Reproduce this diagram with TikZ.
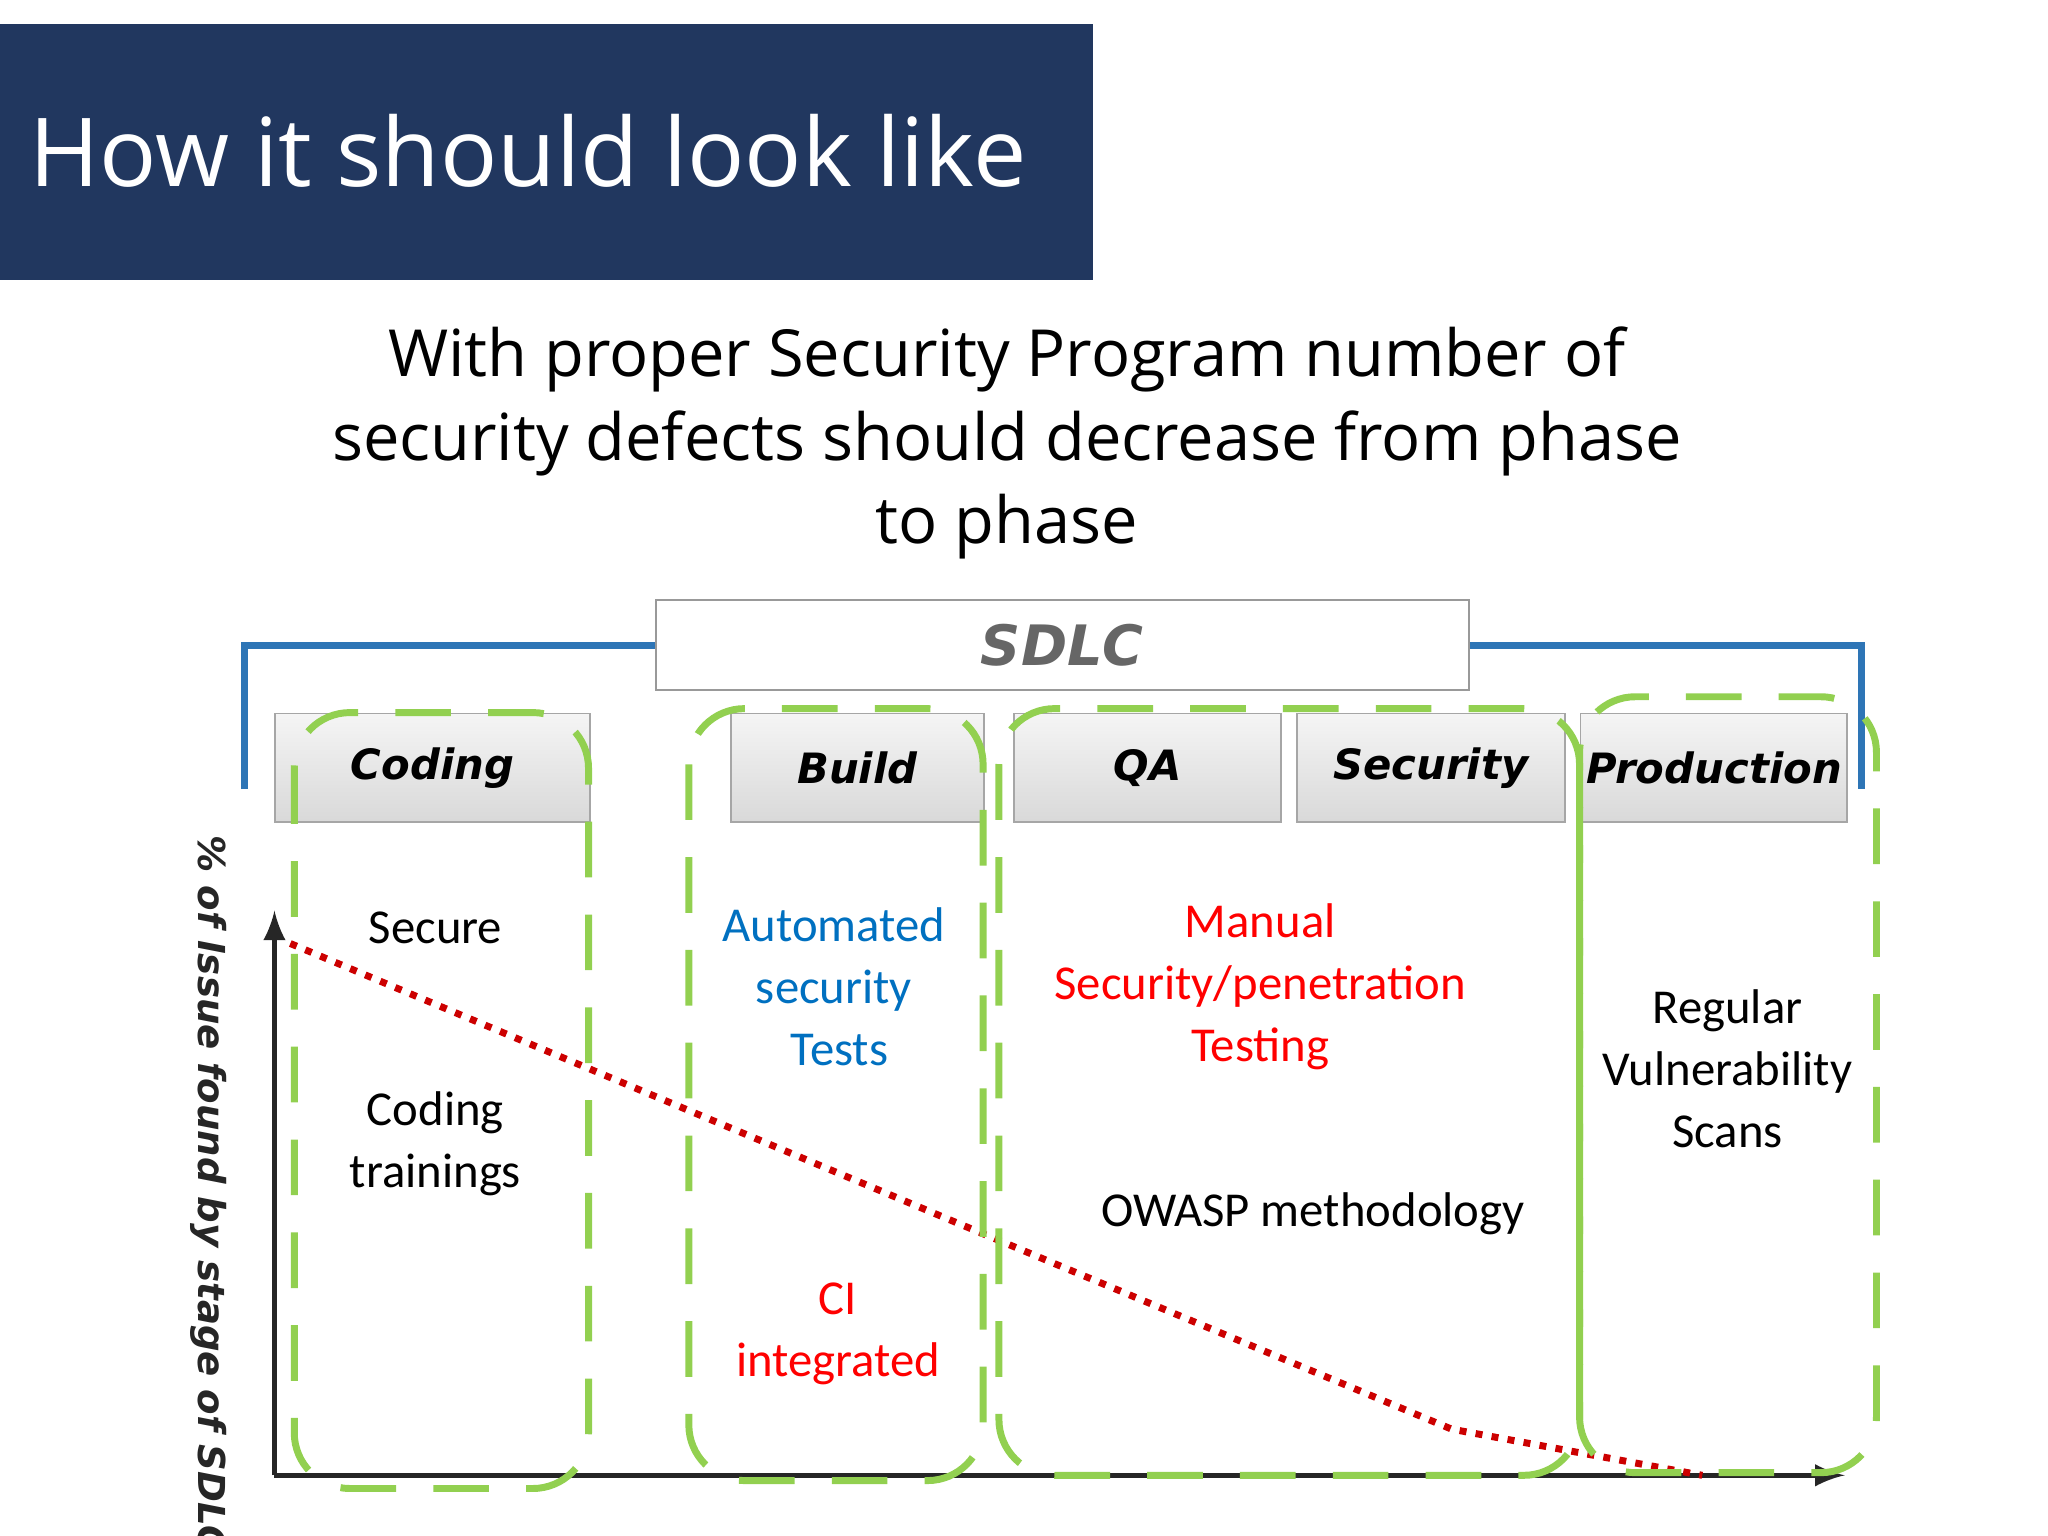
\documentclass[tikz,border=0pt]{standalone}
\usepackage{fontspec}
\setmainfont{Carlito}
\newfontfamily\titlefont{Open Sans}
\newfontfamily\phasefont{DejaVu Sans}
\usetikzlibrary{positioning,calc}
\definecolor{navy}{HTML}{21375F}
\definecolor{leaf}{HTML}{92D050}
\definecolor{steel}{HTML}{2E75B6}
\definecolor{autoblue}{HTML}{0070C0}
\definecolor{redtxt}{HTML}{FF0000}

\tikzset{
  phase/.style={draw=gray!70, top color=gray!8, bottom color=gray!30, minimum height=0.82cm,
    font=\phasefont\fontsize{9}{11}\selectfont\bfseries\itshape, anchor=north west, inner sep=0pt},
  group/.style={draw=leaf, line width=1.5pt, dash pattern=on 12pt off 8pt, rounded corners=12pt},
  body/.style={align=center, font=\fontsize{10.5}{13.4}\selectfont}
}

\begin{document}
\begin{tikzpicture}[x=0.01cm, y=-0.01cm]
  \useasboundingbox (0,0) rectangle (1552,1164);

  % title bar
  \fill[navy] (0,18) rectangle (828,212);
  \node (title) [anchor=west, white, font=\titlefont\fontsize{20.5}{24}\selectfont] at (10,114) {How it should look like};

  % subtitle
  \node (sub) [align=center, font=\titlefont\fontsize{14}{18}\selectfont] at (763,336)
    {With proper Security Program number of\\security defects should decrease from phase\\to phase};

  % SDLC bracket
  \node (sdlc) [draw=gray!80, fill=white, minimum width=6.16cm, minimum height=0.68cm, inner sep=0pt,
    font=\phasefont\fontsize{12}{14}\selectfont\bfseries\itshape, text=gray!80!black] at (805,489) {SDLC};
  \draw[steel, line width=1.5pt] (185,598) |- (sdlc.west);
  \draw[steel, line width=1.5pt] (sdlc.east) -| (1411,598);

  % phases
  \node (coding) [phase, minimum width=2.38cm] at (208,540) {Coding};
  \node (build) [phase, minimum width=1.92cm] at (553,540) {Build};
  \node (qa) [phase, minimum width=2.02cm] at (768,540) {QA};
  \node (security) [phase, minimum width=2.03cm] at (982,540) {Security};
  \node (production) [phase, minimum width=2.02cm] at (1197,540) {Production};

  % axes
  \coordinate (origin) at (208,1118);
  \draw[line width=1.2pt, gray!30!black, -latex] (origin) -- (208,690);
  \draw[line width=1.2pt, gray!30!black, -latex] (origin) -- (1398,1118);
  \node (ylabel) [rotate=-90, font=\phasefont\fontsize{8}{10}\selectfont\bfseries\itshape, text=gray!30!black]
    at (158,905) {\% of Issue found by stage of SDLC};

  % trend
  \draw[red!80!black, line width=1.5pt, dotted] (220,715) -- (757,940) -- (1100,1083) -- (1290,1118);

  % groups
  \draw[group] (223,540) rectangle (446,1128);
  \draw[group] (522,537) rectangle (745,1122);
  \draw[group] (757,537) rectangle (1197,1118);
  \draw[group] (1197,528) rectangle (1422,1116);

  % texts
  \node (secure) [body] at (330,703) {Secure};
  \node (train) [body] at (330,867) {Coding\\trainings};
  \node (auto) [body, text=autoblue] at (632,748) {Automated\\security\\\ Tests};
  \node (ci) [body, text=redtxt] at (635,1011) {CI\\integrated};
  \node (manual) [body, text=redtxt] at (955,748) {Manual\\Security/penetration\\Testing};
  \node (owasp) [body] at (995,920) {OWASP methodology};
  \node (scans) [body] at (1309,810) {Regular\\Vulnerability\\Scans};
\end{tikzpicture}
\end{document}
